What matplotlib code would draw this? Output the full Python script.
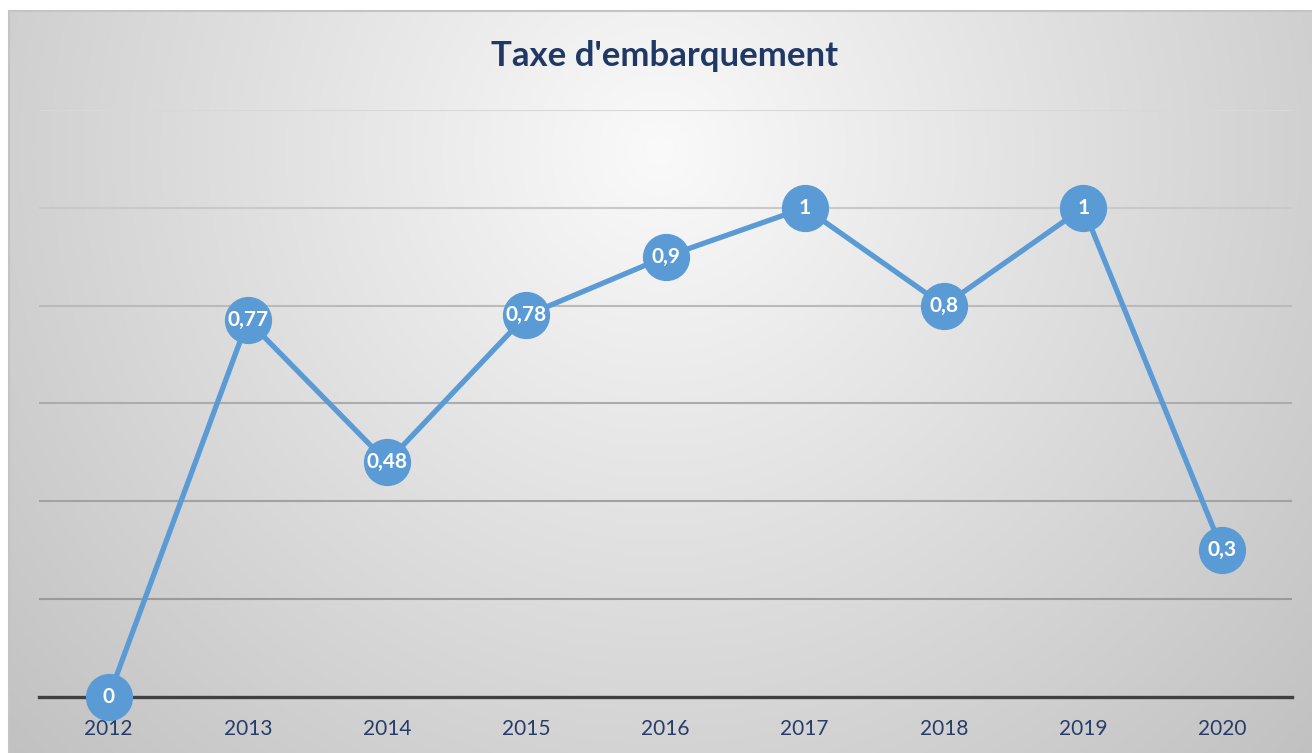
import numpy as np
import matplotlib
matplotlib.use("Agg")
import matplotlib.pyplot as plt

years = ["2012", "2013", "2014", "2015", "2016", "2017", "2018", "2019", "2020"]
values = [0, 0.77, 0.48, 0.78, 0.9, 1.0, 0.8, 1.0, 0.3]
labels = ["0", "0,77", "0,48", "0,78", "0,9", "1", "0,8", "1", "0,3"]
title = "Taxe d'embarquement"

W, H = 1312, 753
fig = plt.figure(figsize=(W / 100, H / 100), dpi=100)
fig.patch.set_facecolor("white")

# background panel with radial gradient
bx0, by_top = 9, 11
bg = fig.add_axes([bx0 / W, 0, 1 - bx0 / W, (H - by_top) / H])
bg.set_axis_off()
gx = np.linspace(bx0, W, 400)
gy = np.linspace(by_top, H, 300)
X, Y = np.meshgrid(gx, gy)
r = np.sqrt(((X - 660) / 800) ** 2 + ((Y - 150) / 800) ** 2)
v = np.clip(0.98 - 0.2 * r, 0, 1)
img = np.dstack([v, v, v])
bg.imshow(img, extent=[0, 1, 0, 1], aspect="auto", origin="upper")
bg.plot([0, 1], [1, 1], color="#c4c4c4", lw=1.5, transform=bg.transAxes, clip_on=False)
bg.plot([0, 0], [0, 1], color="#c4c4c4", lw=1.5, transform=bg.transAxes, clip_on=False)
bg.set_xlim(0, 1)
bg.set_ylim(0, 1)

# main axes
left, right = 39, 1292
y0px, ytop = 697, 110
ax = fig.add_axes([left / W, (H - y0px) / H, (right - left) / W, (y0px - ytop) / H])
ax.patch.set_alpha(0)
x = np.arange(len(years))
ax.set_xlim(-0.5, len(years) - 0.5)
ax.set_ylim(0, 1.2)
ax.set_yticks(np.arange(0.2, 1.21, 0.2))
ax.tick_params(axis="y", left=False, labelleft=False)
ax.set_xticks(x)
ax.set_xticklabels(years, fontsize=15, color="#263d6b", family="Lato")
ax.tick_params(axis="x", length=0, pad=16)
for s in ["top", "right", "left"]:
    ax.spines[s].set_visible(False)
ax.spines["bottom"].set_color("#404040")
ax.spines["bottom"].set_linewidth(2.4)
ax.grid(axis="y", linewidth=1.5)
grid_cols = ["#9a9a9a", "#a2a2a2", "#acacac", "#bababa", "#c9c9c9", "#d8d8d8"]
for gl, c in zip(ax.yaxis.get_gridlines(), grid_cols):
    gl.set_color(c)
ax.set_axisbelow(True)

ax.plot(x, values, color="#5b9bd5", lw=3.8, marker="o", markersize=33,
        markerfacecolor="#5b9bd5", markeredgecolor="#5b9bd5", clip_on=False, zorder=3,
        solid_joinstyle="round")
for xi, yi, lab in zip(x, values, labels):
    ax.text(xi, yi, lab, ha="center", va="center", color="white", fontsize=15,
            fontweight="bold", family="Lato", zorder=4)

fig.text(665 / W, 1 - 56 / H, title, ha="center", va="center", fontsize=25,
         fontweight="bold", color="#1f3864", family="Lato")

fig.savefig("out.png", dpi=100)
